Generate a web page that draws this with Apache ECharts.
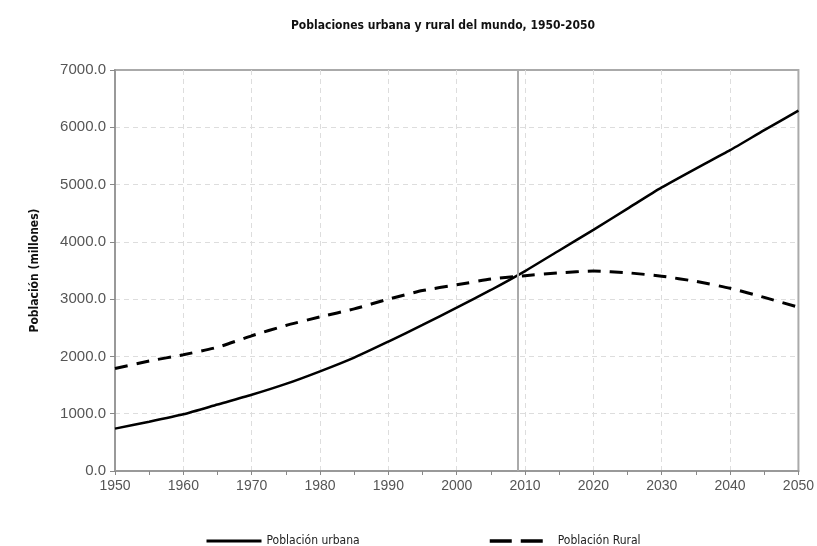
<!DOCTYPE html>
<html>
<head>
<meta charset="utf-8">
<script src="https://cdn.jsdelivr.net/npm/echarts@6/dist/echarts.min.js"></script>
<style>
html, body { margin: 0; padding: 0; background: #fff; }
#chart { width: 817px; height: 546px; }
</style>
</head>
<body>
<div id="chart"></div>
<script>
// 年份与数据(百万人)
var years = [1950, 1955, 1960, 1965, 1970, 1975, 1980, 1985, 1990, 1995, 2000,
             2005, 2010, 2015, 2020, 2025, 2030, 2035, 2040, 2045, 2050];
var urbana = [740, 860, 990, 1160, 1330, 1520, 1740, 1980, 2260, 2550, 2850,
              3160, 3490, 3850, 4210, 4580, 4950, 5280, 5600, 5950, 6290];
var rural = [1790, 1920, 2030, 2160, 2360, 2540, 2690, 2830, 3000, 3150, 3250,
             3350, 3410, 3460, 3490, 3460, 3400, 3310, 3190, 3030, 2860];
var markYear = 2009;
var serieNames = ['Población urbana', 'Población Rural'];

var chart = echarts.init(document.getElementById('chart'));

function pairs(vals) {
    return years.map(function (y, i) { return [y, vals[i]]; });
}

var condensed = "'DejaVu Sans Condensed', 'Liberation Sans Narrow', sans-serif";

var option = {
    animation: false,
    title: {
        text: 'Poblaciones urbana y rural del mundo, 1950-2050',
        left: 438,
        textAlign: 'center',
        top: 15,
        textStyle: { fontFamily: condensed, fontSize: 12, fontWeight: 'bold', color: '#111' }
    },
    legend: [
        {
            data: [serieNames[0]],
            left: 200, top: 530,
            itemWidth: 55, itemHeight: 14,
            itemStyle: { opacity: 0 },
            lineStyle: { width: 3 },
            textStyle: { fontFamily: condensed, fontSize: 12, color: '#222' }
        },
        {
            data: [serieNames[1]],
            left: 483, top: 530,
            itemWidth: 53, itemHeight: 14,
            itemStyle: { opacity: 0 },
            lineStyle: { width: 3.5, type: [22, 9] },
            textStyle: { fontFamily: condensed, fontSize: 12, color: '#222', padding: [0, 0, 0, 10] }
        }
    ],
    grid: {
        left: 115, right: 17, top: 70, bottom: 75,
        show: true, borderColor: '#aaa', borderWidth: 2
    },
    xAxis: {
        type: 'value',
        min: 1950, max: 2050, interval: 10,
        axisLine: { lineStyle: { color: '#999', width: 2 } },
        axisTick: { show: true, length: 4, lineStyle: { color: '#888' } },
        minorTick: { show: true, splitNumber: 2, length: 4, lineStyle: { color: '#888' } },
        splitLine: { show: true, showMinLine: false, showMaxLine: false, lineStyle: { color: '#ddd', type: [5, 4] } },
        axisLabel: {
            color: '#555', fontFamily: "'Liberation Sans', Arial, sans-serif", fontSize: 14,
            margin: 8, showMaxLabel: true, showMinLabel: true,
            formatter: function (v) { return String(v); }
        }
    },
    yAxis: {
        type: 'value',
        min: 0, max: 7000, interval: 1000,
        name: 'Población (millones)',
        nameLocation: 'middle',
        nameGap: 74,
        nameTextStyle: { fontFamily: condensed, fontSize: 12, fontWeight: 'bold', color: '#111' },
        axisLine: { show: true, lineStyle: { color: '#999', width: 2 } },
        axisTick: { show: true, length: 5, lineStyle: { color: '#888' } },
        splitLine: { show: true, showMinLine: false, showMaxLine: false, lineStyle: { color: '#ddd', type: [5, 4] } },
        axisLabel: {
            color: '#555', fontFamily: "'Liberation Sans', Arial, sans-serif", fontSize: 15,
            margin: 9,
            formatter: function (v) { return v.toFixed(1); }
        }
    },
    series: [
        {
            name: serieNames[0],
            type: 'line',
            data: pairs(urbana),
            showSymbol: false,
            symbol: 'none',
            smooth: 0.2,
            lineStyle: { color: '#000', width: 2.5 },
            itemStyle: { color: '#000' },
            z: 3,
            markLine: {
                silent: true,
                symbol: 'none',
                label: { show: false },
                lineStyle: { color: '#aaa', width: 2, type: 'solid' },
                data: [{ xAxis: markYear }]
            }
        },
        {
            name: serieNames[1],
            type: 'line',
            data: pairs(rural),
            showSymbol: false,
            symbol: 'none',
            smooth: 0.2,
            lineStyle: { color: '#000', width: 3, type: [13, 9] },
            itemStyle: { color: '#000' },
            z: 3
        }
    ]
};

chart.setOption(option);
</script>
</body>
</html>
